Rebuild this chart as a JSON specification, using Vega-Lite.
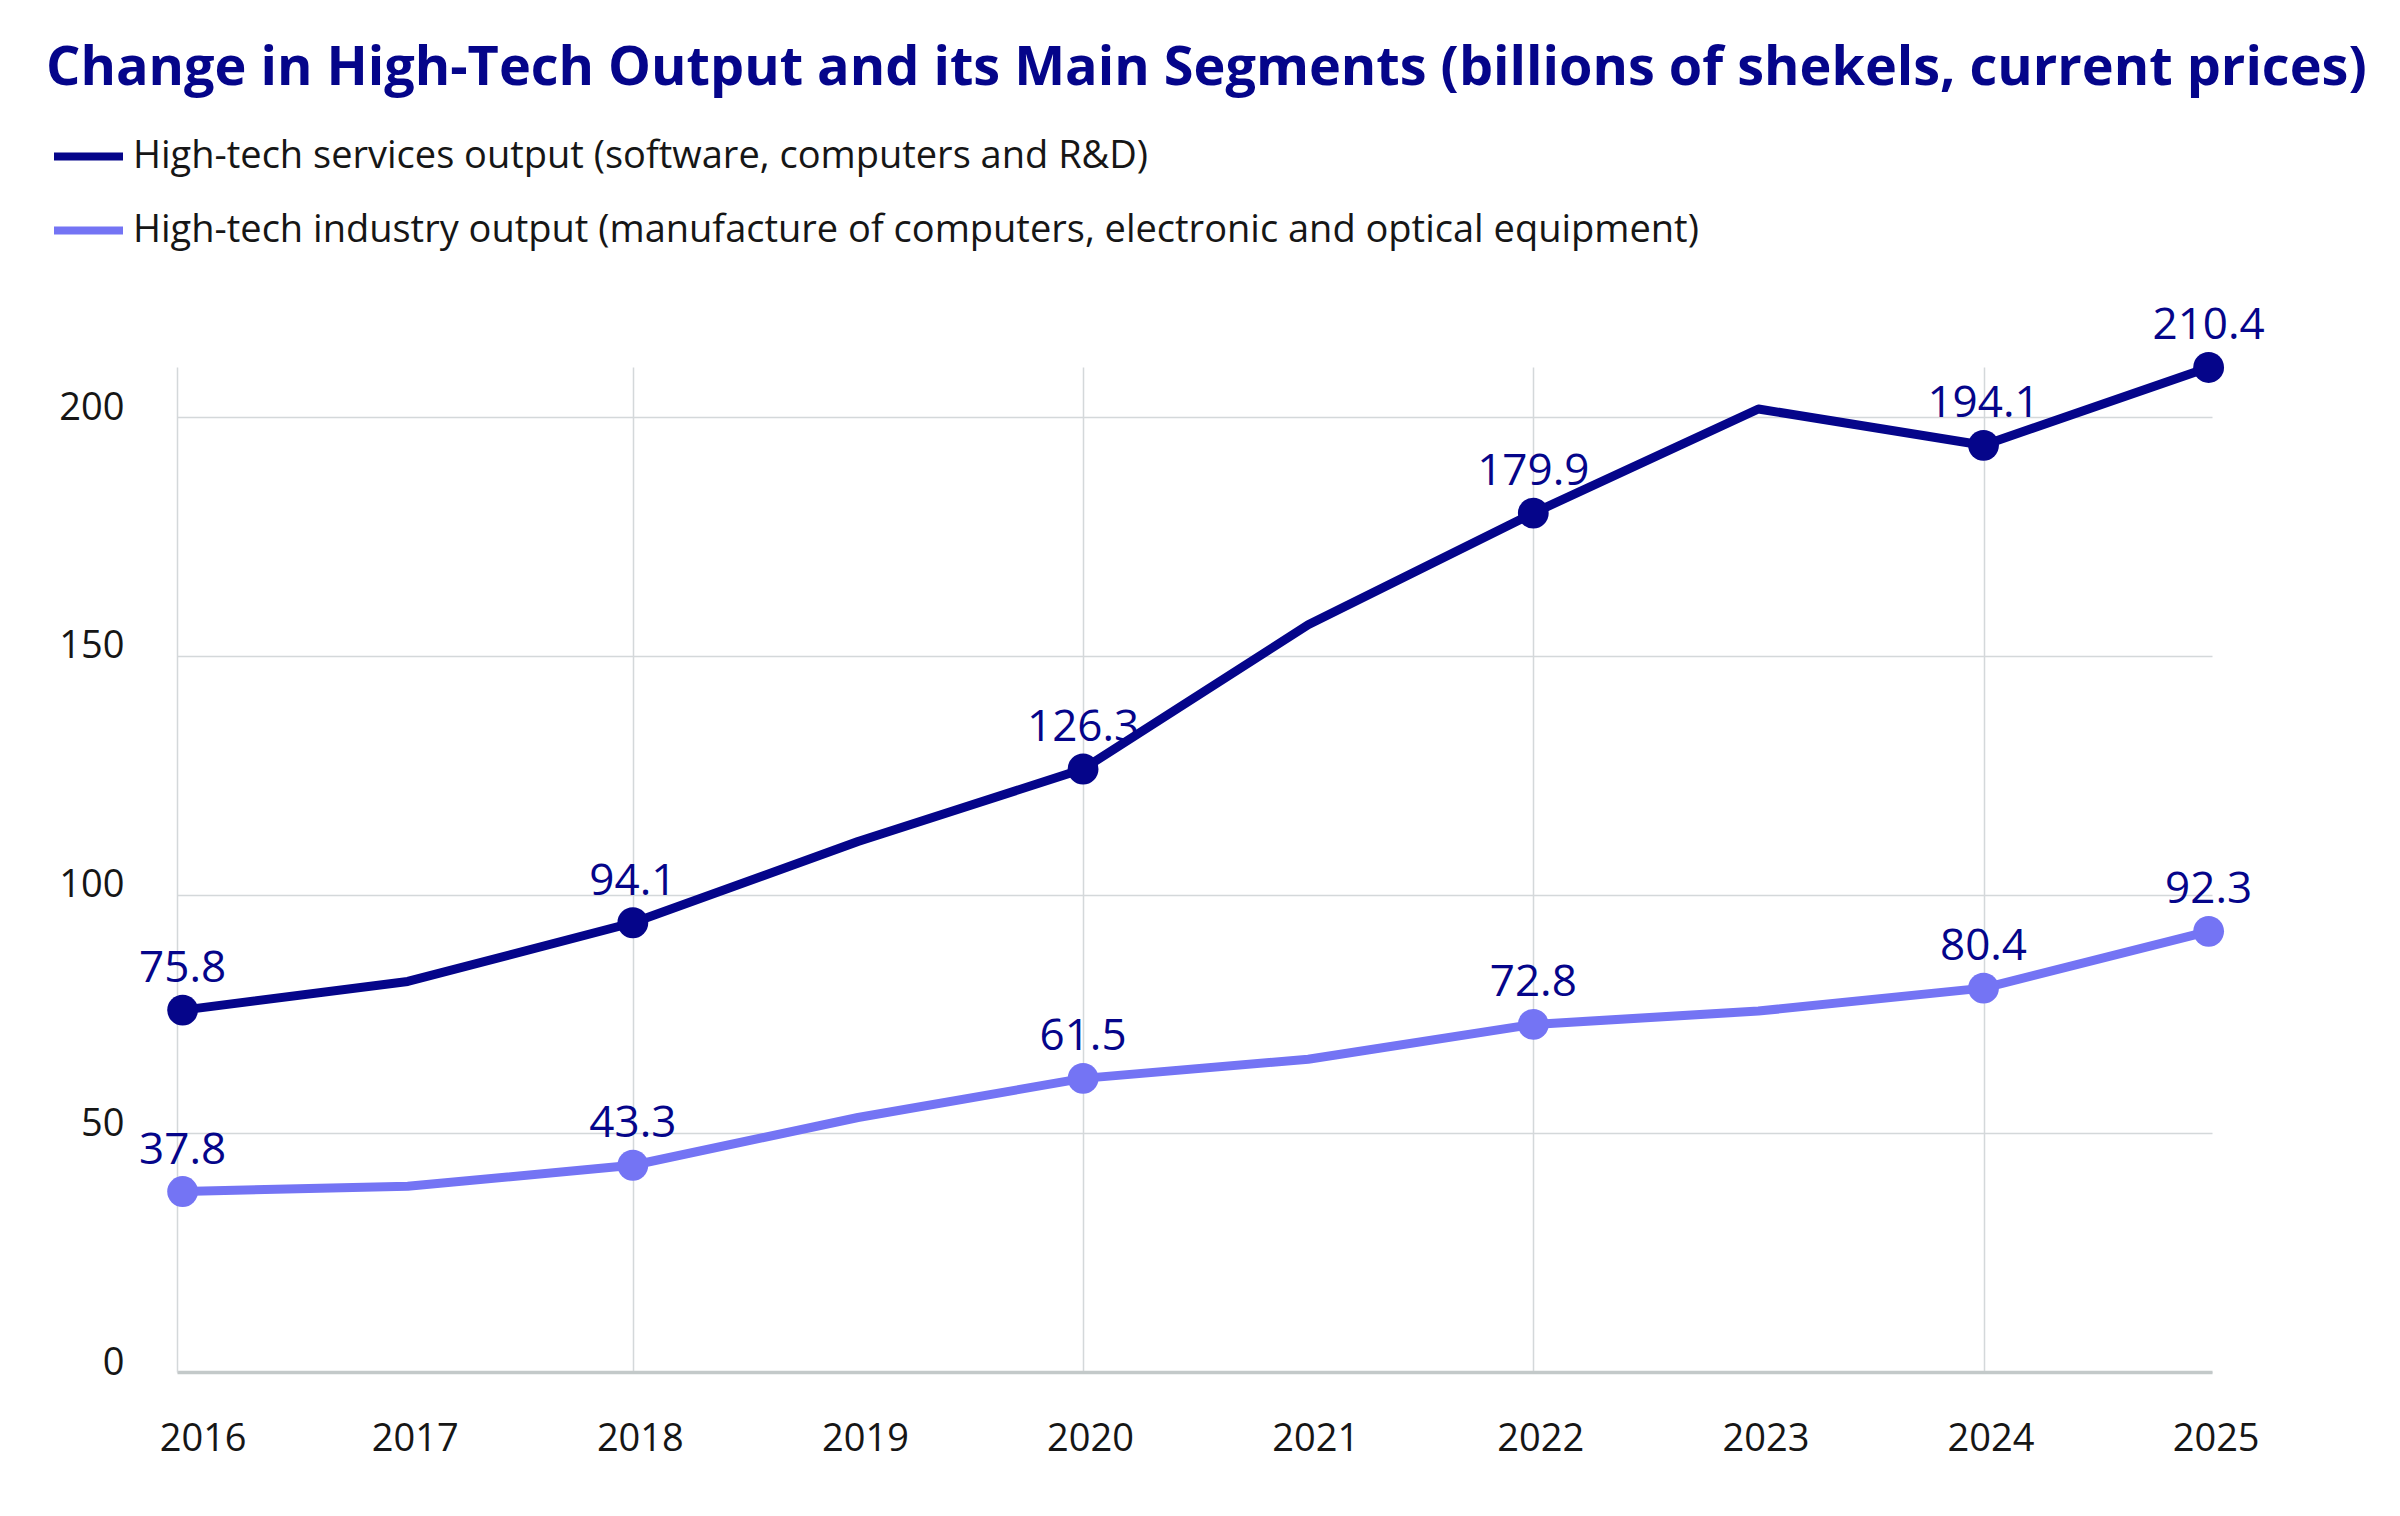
{
  "$schema": "https://vega.github.io/schema/vega-lite/v6.json",
  "autosize": {"type": "none"},
  "width": 2035,
  "height": 1005,
  "padding": {"left": 177, "top": 367, "right": 188, "bottom": 144},
  "background": "white",
  "title": {
    "text": "Change in High-Tech Output and its Main Segments (billions of shekels, current prices)",
    "anchor": "start",
    "frame": "group",
    "dx": -131,
    "offset": 22,
    "font": "Open Sans",
    "fontSize": 54,
    "fontWeight": "bold",
    "color": "#05058a"
  },
  "config": {
    "view": {"stroke": null},
    "font": "Open Sans"
  },
  "data": {
    "values": [
      {"year": 2016, "series": "High-tech services output (software, computers and R&D)", "value": 75.8},
      {"year": 2017, "series": "High-tech services output (software, computers and R&D)", "value": 81.8},
      {"year": 2018, "series": "High-tech services output (software, computers and R&D)", "value": 94.1},
      {"year": 2019, "series": "High-tech services output (software, computers and R&D)", "value": 111.1},
      {"year": 2020, "series": "High-tech services output (software, computers and R&D)", "value": 126.3},
      {"year": 2021, "series": "High-tech services output (software, computers and R&D)", "value": 156.5},
      {"year": 2022, "series": "High-tech services output (software, computers and R&D)", "value": 179.9},
      {"year": 2023, "series": "High-tech services output (software, computers and R&D)", "value": 201.7},
      {"year": 2024, "series": "High-tech services output (software, computers and R&D)", "value": 194.1},
      {"year": 2025, "series": "High-tech services output (software, computers and R&D)", "value": 210.4},
      {"year": 2016, "series": "High-tech industry output (manufacture of computers, electronic and optical equipment)", "value": 37.8},
      {"year": 2017, "series": "High-tech industry output (manufacture of computers, electronic and optical equipment)", "value": 38.9},
      {"year": 2018, "series": "High-tech industry output (manufacture of computers, electronic and optical equipment)", "value": 43.3},
      {"year": 2019, "series": "High-tech industry output (manufacture of computers, electronic and optical equipment)", "value": 53.3},
      {"year": 2020, "series": "High-tech industry output (manufacture of computers, electronic and optical equipment)", "value": 61.5},
      {"year": 2021, "series": "High-tech industry output (manufacture of computers, electronic and optical equipment)", "value": 65.5},
      {"year": 2022, "series": "High-tech industry output (manufacture of computers, electronic and optical equipment)", "value": 72.8},
      {"year": 2023, "series": "High-tech industry output (manufacture of computers, electronic and optical equipment)", "value": 75.6},
      {"year": 2024, "series": "High-tech industry output (manufacture of computers, electronic and optical equipment)", "value": 80.4},
      {"year": 2025, "series": "High-tech industry output (manufacture of computers, electronic and optical equipment)", "value": 92.3}
    ]
  },
  "encoding": {
    "x": {
      "field": "year",
      "type": "quantitative",
      "scale": {"domain": [2015.975, 2025.015], "nice": false, "zero": false},
      "axis": {
        "values": [2016, 2017, 2018, 2019, 2020, 2021, 2022, 2023, 2024, 2025],
        "format": "d",
        "title": null,
        "ticks": false,
        "labelFontSize": 38,
        "labelColor": "#161616",
        "labelPadding": 48,
        "labelOffset": {"condition": {"test": "datum.value == 2016", "value": 20}, "value": 7},
        "domainColor": "#c3c9c9",
        "domainWidth": 3.5,
        "grid": true,
        "gridColor": "#d4d8da",
        "gridWidth": 1.5,
        "gridOpacity": {"condition": {"test": "datum.value % 2 == 1 || datum.value == 2016", "value": 0}, "value": 1}
      }
    },
    "y": {
      "field": "value",
      "type": "quantitative",
      "scale": {"domain": [0, 210.5], "nice": false},
      "axis": {
        "values": [0, 50, 100, 150, 200],
        "title": null,
        "ticks": false,
        "labelFontSize": 38,
        "labelColor": "#161616",
        "labelPadding": 53,
        "labelOffset": -9,
        "domainColor": "#d4d8da",
        "domainWidth": 1.5,
        "grid": true,
        "gridColor": "#d4d8da",
        "gridWidth": 1.5
      }
    }
  },
  "layer": [
    {
      "mark": {"type": "line", "strokeWidth": 9, "strokeJoin": "round"},
      "encoding": {
        "color": {
          "field": "series",
          "type": "nominal",
          "scale": {
            "domain": [
              "High-tech services output (software, computers and R&D)",
              "High-tech industry output (manufacture of computers, electronic and optical equipment)"
            ],
            "range": ["#05058a", "#7474f4"]
          },
          "legend": {
            "orient": "none",
            "legendX": -127,
            "legendY": -249,
            "direction": "vertical",
            "title": null,
            "padding": 0,
            "symbolType": "stroke",
            "symbolSize": 4761,
            "symbolStrokeWidth": 8,
            "labelFontSize": 38,
            "labelFont": "Open Sans",
            "labelColor": "#161616",
            "labelOffset": 6,
            "labelLimit": 0,
            "rowPadding": 16
          }
        }
      }
    },
    {
      "transform": [{"filter": "datum.year % 2 == 0 || datum.year == 2025"}],
      "mark": {"type": "point", "filled": true, "opacity": 1, "size": 950},
      "encoding": {
        "color": {"field": "series", "type": "nominal", "legend": null}
      }
    },
    {
      "transform": [{"filter": "datum.year % 2 == 0 || datum.year == 2025"}],
      "mark": {"type": "text", "baseline": "alphabetic", "dy": -28, "fontSize": 44, "color": "#05058a", "font": "Open Sans"},
      "encoding": {
        "text": {"field": "value", "type": "quantitative", "format": ".1f"}
      }
    }
  ]
}
